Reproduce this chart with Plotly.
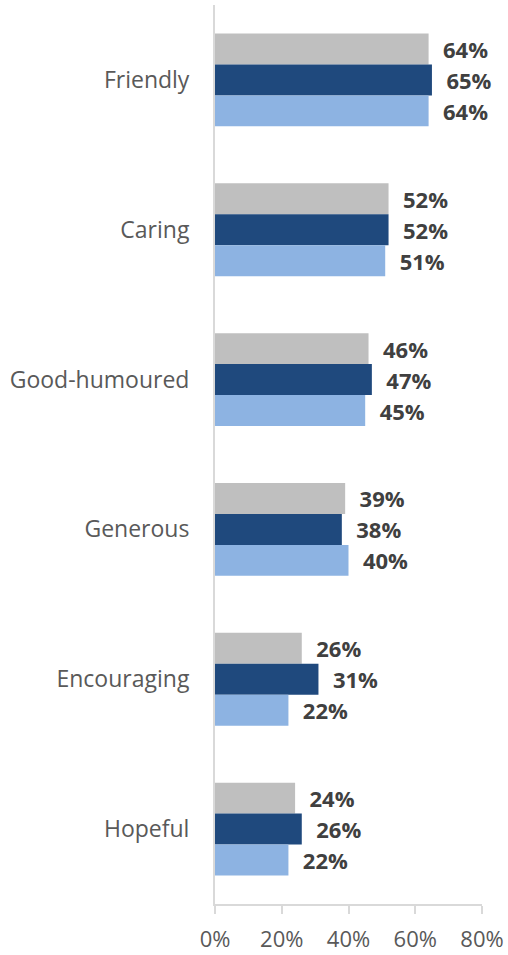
import plotly.graph_objects as go

categories = ["Friendly", "Caring", "Good-humoured", "Generous", "Encouraging", "Hopeful"]
series_names = ["Series 1", "Series 2", "Series 3"]
gray_vals = [64, 52, 46, 39, 26, 24]
dark_vals = [65, 52, 47, 38, 31, 26]
light_vals = [64, 51, 45, 40, 22, 22]
colors = ["#BFBFBF", "#1F497D", "#8DB3E2"]
tick_vals = [0, 20, 40, 60, 80]
tick_text = ["0%", "20%", "40%", "60%", "80%"]

fig = go.Figure()
for name, vals, col in zip(series_names, [gray_vals, dark_vals, light_vals], colors):
    fig.add_trace(go.Bar(
        y=categories, x=vals, name=name, orientation="h",
        marker=dict(color=col, line=dict(width=0)),
        text=["\u00a0\u00a0" + f"{v}%" for v in vals],
        textposition="outside", constraintext="none", cliponaxis=False,
        textfont=dict(family="Open Sans", size=22, color="#404040", weight="bold"),
    ))

fig.update_layout(
    width=508, height=955,
    margin=dict(l=215, r=26, t=5, b=51, autoexpand=False),
    barmode="group", bargap=0.38, bargroupgap=0,
    plot_bgcolor="white", paper_bgcolor="white",
    showlegend=False,
    font=dict(family="Open Sans", size=22, color="#595959"),
    xaxis=dict(range=[0, 80], tickvals=tick_vals, ticktext=tick_text, automargin=False,
               showgrid=False, zeroline=False, showline=True, linecolor="#D9D9D9", linewidth=2,
               ticks="outside", ticklen=8, tickcolor="#D9D9D9", tickwidth=2,
               ticklabelstandoff=7,
               tickfont=dict(size=22, color="#595959")),
    yaxis=dict(autorange="reversed", showgrid=False, zeroline=False, automargin=False,
               showline=True, linecolor="#D9D9D9", linewidth=2, ticks="",
               ticklabelstandoff=19,
               tickfont=dict(size=23, color="#595959")),
)

fig.write_html("out.html", config={"displayModeBar": False},
               post_script="document.body.style.margin='0';")
